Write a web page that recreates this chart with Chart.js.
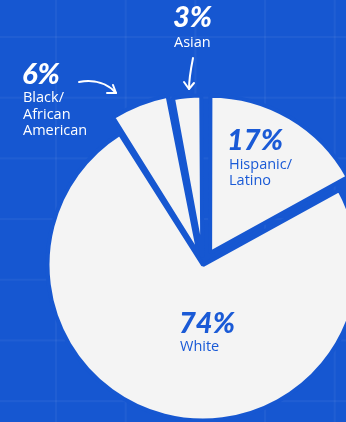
<!DOCTYPE html>
<html>
<head>
<meta charset="utf-8">
<script src="https://cdn.jsdelivr.net/npm/chart.js@4.4.1/dist/chart.umd.min.js"></script>
<style>
  html, body { margin: 0; padding: 0; }
  body {
    width: 346px; height: 422px; overflow: hidden; position: relative;
    background-color: #1657d1;
    background-image:
      linear-gradient(to right, rgba(255,255,255,0.045) 2px, transparent 2px),
      linear-gradient(to bottom, rgba(255,255,255,0.045) 2px, transparent 2px);
    background-size: 69.7px 60.7px;
    background-position: 55px 36px;
  }
  #chart { position: absolute; left: 0; top: 0; }
  .pct { position: absolute; font-family: Lato, sans-serif; font-weight: 900; font-style: italic;
         font-size: 29px; line-height: 30px; color: #fff; white-space: nowrap; }
  .lbl { position: absolute; font-family: 'Open Sans', sans-serif; font-size: 14.5px;
         line-height: 16.5px; color: #fff; white-space: nowrap; }
  .in { color: #1a5ad6; }
  svg { position: absolute; left: 0; top: 0; }
</style>
</head>
<body>
<canvas id="chart" width="346" height="422"></canvas>

<div class="pct" style="left:173px; top:1px;">3%</div>
<div class="lbl" style="left:174px; top:34px;">Asian</div>

<div class="pct" style="left:22px; top:58px;">6%</div>
<div class="lbl" style="left:23px; top:89px;">Black/<br>African<br>American</div>

<div class="pct in" style="left:227px; top:124px;">17%</div>
<div class="lbl in" style="left:229px; top:156px; line-height:15.5px;">Hispanic/<br>Latino</div>

<div class="pct in" style="left:179px; top:307px;">74%</div>
<div class="lbl in" style="left:180px; top:338px;">White</div>

<svg width="346" height="422" viewBox="0 0 346 422">
  <g fill="none" stroke="#fff" stroke-width="2" stroke-linecap="round" stroke-linejoin="round">
    <path d="M193 58 C 191 68, 189 78, 189 89"/>
    <path d="M184 82 L189 89 L194 83"/>
    <path d="M79 82 C 95 79, 108 84, 116 93"/>
    <path d="M107 93 L116 93 L113 85"/>
  </g>
</svg>

<script>
// ---- data ----
const categories = ['Hispanic/Latino', 'White', 'Black/African American', 'Asian'];
const shares = [17, 74, 6, 3];
const shareLabels = ['17%', '74%', '6%', '3%'];

const BG = '#1657d1';
const SLICE = '#f4f4f4';

new Chart(document.getElementById('chart'), {
  type: 'pie',
  data: {
    labels: categories,
    datasets: [{
      data: shares,
      backgroundColor: SLICE,
      borderColor: BG,
      borderWidth: 4,
      offset: [56, 0, 43, 31],
      hoverOffset: 0,
      clip: false
    }]
  },
  options: {
    responsive: false,
    animation: false,
    devicePixelRatio: 1,
    events: [],
    radius: 155.5,
    layout: { padding: { left: 60, right: 0, top: 108, bottom: 0 } },
    plugins: { legend: { display: false }, tooltip: { enabled: false } }
  }
});
</script>
</body>
</html>
